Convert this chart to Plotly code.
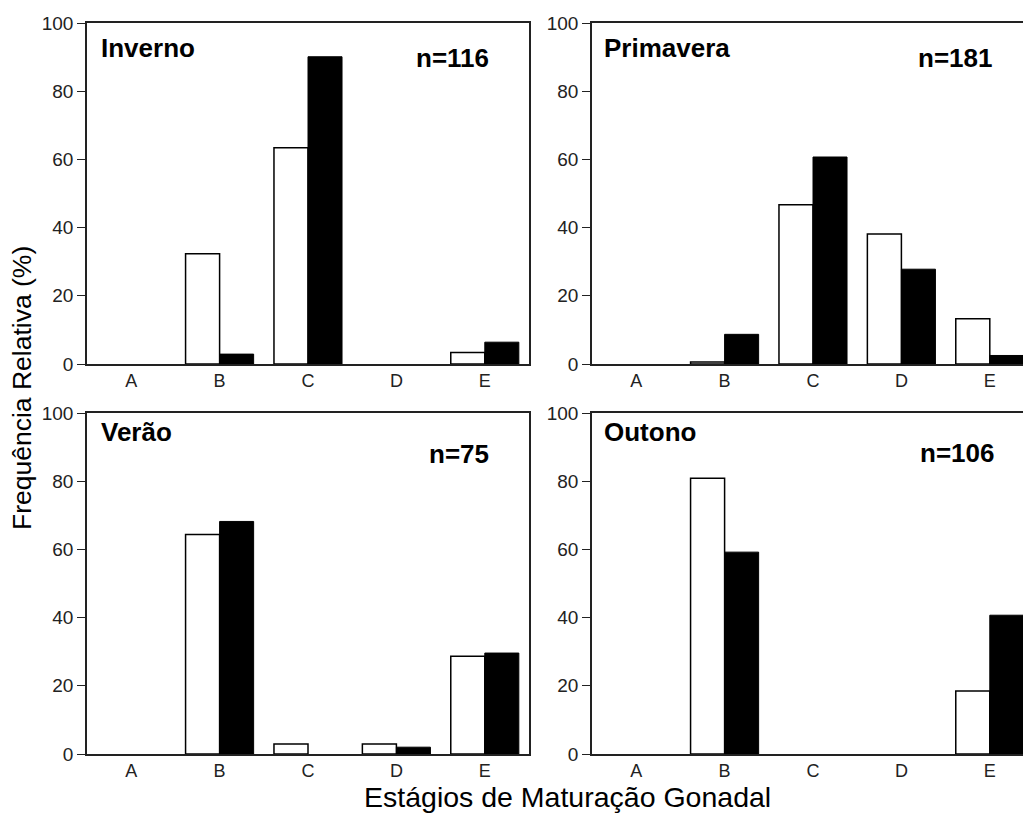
import plotly.graph_objects as go

stages = ["A", "B", "C", "D", "E"]
panels = ["Inverno", "Primavera", "Verão", "Outono"]
n_labels = ["n=116", "n=181", "n=75", "n=106"]

inverno_white = [0, 32.3, 63.4, 0, 3.4]
inverno_black = [0, 2.9, 90.1, 0, 6.4]
primavera_white = [0, 0.6, 46.7, 38.1, 13.3]
primavera_black = [0, 8.7, 60.7, 27.8, 2.5]
verao_white = [0, 64.4, 2.9, 2.9, 28.7]
verao_black = [0, 68.2, 0, 2.0, 29.6]
outono_white = [0, 80.9, 0, 0, 18.5]
outono_black = [0, 59.2, 0, 0, 40.7]

white_series = [inverno_white, primavera_white, verao_white, outono_white]
black_series = [inverno_black, primavera_black, verao_black, outono_black]

y_ticks = [0, 20, 40, 60, 80, 100]

W, H = 1023, 823
FONT = "Liberation Sans, Arial, sans-serif"

# pixel geometry in page coordinates
left_x = (87, 529)
right_x = (592, 1023)
top_y = (23, 364)
bot_y = (413, 754)
cat_px = (left_x[1] - left_x[0]) / 5.0


def px_x(a):
    return a / W


def px_y(a):
    return 1 - a / H


def nz(vals):
    return [v if v else None for v in vals]


fig = go.Figure()

layout_axes = {}
specs = [
    (left_x, top_y, True),
    (right_x, top_y, False),
    (left_x, bot_y, True),
    (right_x, bot_y, False),
]

for i, (px, py, full) in enumerate(specs):
    k = "" if i == 0 else str(i + 1)
    xa = "x" + k
    ya = "y" + k
    fig.add_trace(go.Bar(
        x=stages, y=nz(white_series[i]), xaxis=xa, yaxis=ya,
        marker=dict(color="white", line=dict(color="black", width=1.5)),
        showlegend=False, hoverinfo="skip", offsetgroup="w",
    ))
    fig.add_trace(go.Bar(
        x=stages, y=nz(black_series[i]), xaxis=xa, yaxis=ya,
        marker=dict(color="black", line=dict(color="black", width=1)),
        showlegend=False, hoverinfo="skip", offsetgroup="b",
    ))
    if full:
        xr = [-0.5, 4.5]
    else:
        xr = [-0.5, -0.5 + (px[1] - px[0]) / cat_px]
    layout_axes["xaxis" + k] = dict(
        domain=[px_x(px[0]), min(1.0, px_x(px[1]))], anchor=ya, range=xr,
        type="category",
        showline=True, linecolor="#222", linewidth=1.5, mirror=True,
        ticks="", showgrid=False, zeroline=False,
        tickfont=dict(family=FONT, size=18, color="#222"),
        automargin=False,
    )
    layout_axes["yaxis" + k] = dict(
        domain=[px_y(py[1]), px_y(py[0])], anchor=xa, range=[0, 100],
        tickvals=y_ticks, ticks="outside", ticklen=8, tickwidth=1.2,
        tickcolor="#222",
        showline=True, linecolor="#222", linewidth=1.5, mirror=full,
        showgrid=False, zeroline=False,
        tickfont=dict(family=FONT, size=19, color="#222"),
        automargin=False,
    )

annotations = []
label_pos = [
    (99, 48, 491, 58),
    (602, 48, 994, 58),
    (99, 432, 491, 454),
    (602, 432, 996, 453),
]
for i, (lx, ly, rx, ry) in enumerate(label_pos):
    annotations.append(dict(
        x=px_x(lx), y=px_y(ly), xref="paper", yref="paper",
        text="<b>%s</b>" % panels[i], showarrow=False,
        xanchor="left", yanchor="middle",
        font=dict(family=FONT, size=26, color="black"),
    ))
    annotations.append(dict(
        x=px_x(rx), y=px_y(ry), xref="paper", yref="paper",
        text="<b>%s</b>" % n_labels[i], showarrow=False,
        xanchor="right", yanchor="middle",
        font=dict(family=FONT, size=26, color="black"),
    ))

annotations.append(dict(
    x=px_x(22), y=px_y(388), xref="paper", yref="paper",
    text="Frequência Relativa (%)", showarrow=False, textangle=-90,
    xanchor="center", yanchor="middle",
    font=dict(family=FONT, size=26.5, color="black"),
))
annotations.append(dict(
    x=px_x(567), y=px_y(797), xref="paper", yref="paper",
    text="Estágios de Maturação Gonadal", showarrow=False,
    xanchor="center", yanchor="middle",
    font=dict(family=FONT, size=28.5, color="black"),
))

fig.update_layout(
    width=W, height=H,
    margin=dict(l=0, r=0, t=0, b=0),
    paper_bgcolor="white", plot_bgcolor="white",
    barmode="group", bargap=0.23, bargroupgap=0.0,
    annotations=annotations,
    **layout_axes,
)

fig.write_html(
    "out.html",
    config={"displayModeBar": False},
    post_script="document.body.style.margin='0';document.body.style.overflow='hidden';",
)
